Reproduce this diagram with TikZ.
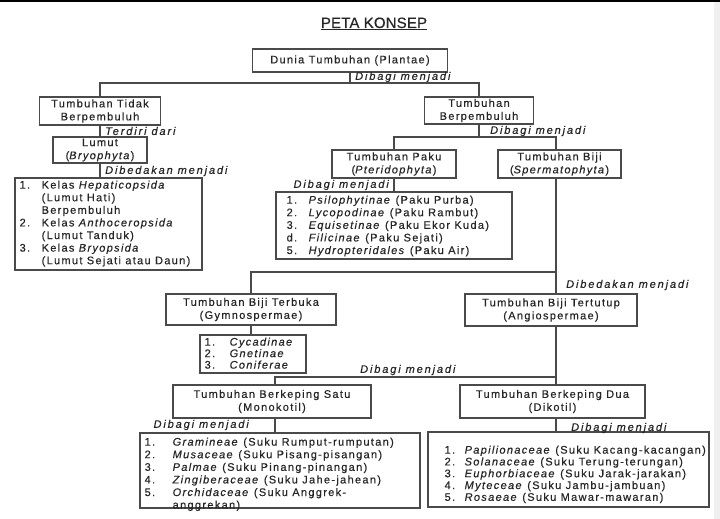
\documentclass[tikz,border=0pt]{standalone}
\usepackage{fontspec}
\setmainfont{Liberation Sans}[LetterSpace=12, FakeBold=0.4]
\definecolor{linec}{HTML}{4A4A4A}
\definecolor{textc}{HTML}{262626}
\newcommand\boxfont{\fontsize{11}{13}\selectfont}
\newcommand\listfont{\fontsize{11}{12.6}\selectfont}
\newcommand\lblfont{\fontsize{11}{13}\selectfont\itshape\addfontfeature{LetterSpace=17}}
\newcommand\itm[3]{\makebox[#1][l]{#2}#3}
\tikzset{
  box/.style={draw=linec, line width=1.1pt, inner sep=0pt, align=center, font=\boxfont, text=textc},
  lst/.style={inner sep=0pt, align=left, anchor=north west, font=\listfont, text=textc},
  lbl/.style={inner sep=0pt, font=\lblfont, text=textc},
  conn/.style={draw=linec, line width=1.1pt},
}
\begin{document}
\begin{tikzpicture}[x=1pt,y=-1pt]
\useasboundingbox (0,0) rectangle (720,519);
\fill[white] (0,0) rectangle (720,519);
\fill[black] (0,0) rectangle (720,2.5);
\fill[black!6] (714,2.5) rectangle (720,519);

% title
\node[inner sep=0pt, anchor=base, text=textc, font=\fontsize{15}{17}\selectfont\addfontfeature{LetterSpace=1}] (title) at (374,28) {\underline{PETA KONSEP}};

% boxes
\node[box, minimum width=195pt, minimum height=23pt] (plantae) at (350,60.5) {Dunia Tumbuhan (Plantae)};
\node[box, minimum width=121pt, minimum height=28pt] (ttb) at (100,111) {Tumbuhan Tidak\\Berpembuluh};
\node[box, minimum width=109pt, minimum height=27pt] (tb) at (479,110.5) {Tumbuhan\\Berpembuluh};
\node[box, minimum width=94pt, minimum height=26pt] (lumut) at (100,150) {Lumut\\(\textit{Bryophyta})};
\node[box, minimum width=187pt, minimum height=92pt] (llist) at (108.5,224) {};
\node[box, minimum width=124pt, minimum height=28pt] (paku) at (394,164) {Tumbuhan Paku\\(\textit{Pteridophyta})};
\node[box, minimum width=123pt, minimum height=28pt] (biji) at (559.5,164) {Tumbuhan Biji\\(\textit{Spermatophyta})};
\node[box, minimum width=236pt, minimum height=67pt] (plist) at (394,225.5) {};
\node[box, minimum width=170pt, minimum height=31pt] (gymno) at (251,309.5) {Tumbuhan Biji Terbuka\\(Gymnospermae)};
\node[box, minimum width=106pt, minimum height=38pt] (glist) at (253,354) {};
\node[box, minimum width=172pt, minimum height=32pt] (angio) at (551,310) {Tumbuhan Biji Tertutup\\(Angiospermae)};
\node[box, minimum width=198pt, minimum height=33pt] (mono) at (272,401.5) {Tumbuhan Berkeping Satu\\(Monokotil)};
\node[box, minimum width=280pt, minimum height=75pt] (mlist) at (280,470.5) {};
\node[box, minimum width=185pt, minimum height=33pt] (diko) at (552.5,401.5) {Tumbuhan Berkeping Dua\\(Dikotil)};
\node[box, minimum width=281pt, minimum height=75pt] (dlist) at (568.5,469.5) {};

% list texts
\node[lst, xshift=5pt, yshift=-3pt] (llistT) at (llist.north west) {%
\itm{22pt}{1.}{Kelas \textit{Hepaticopsida}}\\
\hspace*{22pt}(Lumut Hati)\\
\hspace*{22pt}Berpembuluh\\
\itm{22pt}{2.}{Kelas \textit{Anthoceropsida}}\\
\hspace*{22pt}(Lumut Tanduk)\\
\itm{22pt}{3.}{Kelas \textit{Bryopsida}}\\
\hspace*{22pt}(Lumut Sejati atau Daun)};
\node[lst, xshift=11pt, yshift=-4pt] (plistT) at (plist.north west) {%
\itm{22pt}{1.}{\textit{Psilophytinae} (Paku Purba)}\\
\itm{22pt}{2.}{\textit{Lycopodinae} (Paku Rambut)}\\
\itm{22pt}{3.}{\textit{Equisetinae} (Paku Ekor Kuda)}\\
\itm{22pt}{d.}{\textit{Filicinae} (Paku Sejati)}\\
\itm{22pt}{5.}{\textit{Hydropteridales} (Paku Air)}};
\node[lst, xshift=5pt, yshift=-3pt, font=\fontsize{11}{11.5}\selectfont] (glistT) at (glist.north west) {%
\itm{25pt}{1.}{\textit{Cycadinae}}\\
\itm{25pt}{2.}{\textit{Gnetinae}}\\
\itm{25pt}{3.}{\textit{Coniferae}}};
\node[lst, xshift=5pt, yshift=-5pt] (mlistT) at (mlist.north west) {%
\itm{28pt}{1.}{\textit{Gramineae} (Suku Rumput-rumputan)}\\
\itm{28pt}{2.}{\textit{Musaceae} (Suku Pisang-pisangan)}\\
\itm{28pt}{3.}{\textit{Palmae} (Suku Pinang-pinangan)}\\
\itm{28pt}{4.}{\textit{Zingiberaceae} (Suku Jahe-jahean)}\\
\itm{28pt}{5.}{\textit{Orchidaceae} (Suku Anggrek-}\\
\hspace*{28pt}anggrekan)};
\node[lst, xshift=17pt, yshift=-14pt, font=\fontsize{11}{11.8}\selectfont] (dlistT) at (dlist.north west) {%
\itm{20pt}{1.}{\textit{Papilionaceae} (Suku Kacang-kacangan)}\\
\itm{20pt}{2.}{\textit{Solanaceae} (Suku Terung-terungan)}\\
\itm{20pt}{3.}{\textit{Euphorbiaceae} (Suku Jarak-jarakan)}\\
\itm{20pt}{4.}{\textit{Myteceae} (Suku Jambu-jambuan)}\\
\itm{20pt}{5.}{\textit{Rosaeae} (Suku Mawar-mawaran)}};

% labels
\node[lbl, anchor=west] (l1) at (355,77) {Dibagi menjadi};
\node[lbl, anchor=west] (l2) at (105,131) {Terdiri dari};
\node[lbl, anchor=west] (l3) at (105,171) {Dibedakan menjadi};
\node[lbl, anchor=west] (l4) at (490,131) {Dibagi menjadi};
\node[lbl, anchor=east] (l5) at (389,185) {Dibagi menjadi};
\node[lbl, anchor=west] (l6) at (566,285) {Dibedakan menjadi};
\node[lbl, anchor=west] (l7) at (360,370) {Dibagi menjadi};
\node[lbl, anchor=east] (l8) at (249,425) {Dibagi menjadi};
\node[lbl, anchor=west] (l9) at (571,428) {Dibagi menjadi};

% connectors
\coordinate (j1) at (350,83);
\coordinate (j2) at (479,137);
\coordinate (bx) at (556,0);
\coordinate (j3) at (556,272);
\coordinate (mx) at (275,0);
\coordinate (j4) at (556,377);
\draw[conn] (plantae.south) -- (j1);
\draw[conn] (ttb.north) |- (j1) -| (tb.north);
\draw[conn] (ttb.south) -- (lumut.north);
\draw[conn] (lumut.south) -- (lumut.south |- llist.north);
\draw[conn] (tb.south) -- (j2);
\draw[conn] (paku.north) |- (j2) -| (bx |- biji.north);
\draw[conn] (paku.south) -- (paku.south |- plist.north);
\draw[conn] (bx |- biji.south) -- (bx |- angio.north);
\draw[conn] (gymno.north) |- (j3);
\draw[conn] (gymno.south) -- (gymno.south |- glist.north);
\draw[conn] (bx |- angio.south) -- (bx |- diko.north);
\draw[conn] (mx |- mono.north) |- (j4);
\draw[conn] (mx |- mono.south) -- (mx |- mlist.north);
\draw[conn] (bx |- diko.south) -- (bx |- dlist.north);
\end{tikzpicture}
\end{document}
